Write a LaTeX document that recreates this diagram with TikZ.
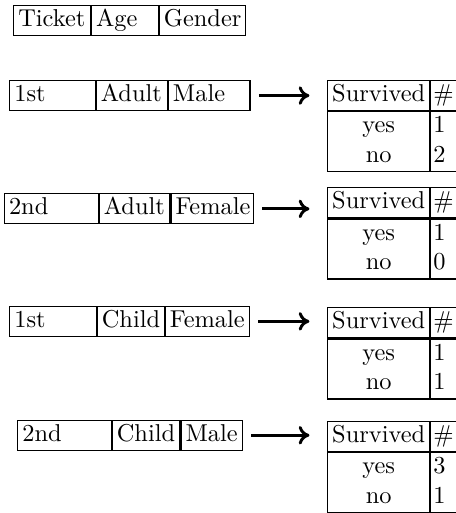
\documentclass[tikz,border=0pt]{standalone}
\usetikzlibrary{arrows.meta}
\def\pxu{0.41pt}
\begin{document}
\begin{tikzpicture}[x=0.41pt,y=-0.41pt,
  cellL/.style={draw, line width=0.45pt, anchor=north west, inner ysep=0pt,
    inner xsep=4.5*\pxu, text width={(#1-9)*\pxu}, align=left,
    minimum height=30*\pxu},
  cellC/.style={draw, line width=0.45pt, anchor=north west, inner sep=0pt,
    minimum width=#1*\pxu, align=center, minimum height=30*\pxu},
  bodyC/.style={draw, line width=0.45pt, anchor=north west, inner sep=0pt,
    minimum width=#1*\pxu, align=center, minimum height=60*\pxu},
  numL/.style={draw, line width=0.45pt, anchor=north west, inner ysep=0pt,
    inner xsep=2.5*\pxu, text width={(#1-5)*\pxu}, align=left,
    minimum height=30*\pxu},
  numB/.style={draw, line width=0.45pt, anchor=north west, inner ysep=0pt,
    inner xsep=2.5*\pxu, text width={(#1-5)*\pxu}, align=left,
    minimum height=60*\pxu},
  arr/.style={line width=1.2pt, -{To[length=4.4pt,width=7.6pt]},
    shorten <=3.4pt, shorten >=7.2pt}
]
\useasboundingbox (0,0) rectangle (456,513);

% header
\node[cellL=76.7] (h1) at (13.3,4.7) {\strut Ticket};
\node[cellL=66.7] (h2) at (h1.north east) {\strut Age};
\node[cellL=86] (h3) at (h2.north east) {\strut Gender};

% row 1
\node[cellL=85.4] (r1a) at (9.3,80) {\strut 1st};
\node[cellL=71] (r1b) at (r1a.north east) {\strut Adult};
\node[cellL=81.6] (r1c) at (r1b.north east) {\strut Male};

% row 2
\node[cellL=93.7] (r2a) at (4,193.3) {\strut 2nd};
\node[cellL=70.6] (r2b) at (r2a.north east) {\strut Adult};
\node[cellL=82.4] (r2c) at (r2b.north east) {\strut Female};

% row 3
\node[cellL=86.4] (r3a) at (9.3,305.8) {\strut 1st};
\node[cellL=67] (r3b) at (r3a.north east) {\strut Child};
\node[cellL=84] (r3c) at (r3b.north east) {\strut Female};

% row 4
\node[cellL=93.4] (r4a) at (17.3,419.7) {\strut 2nd};
\node[cellL=67.6] (r4b) at (r4a.north east) {\strut Child};
\node[cellL=61.4] (r4c) at (r4b.north east) {\strut Male};

% tables
\node[cellC=102.3] (t1a) at (327,80) {\strut Survived};
\node[numL=45] (t1b) at (t1a.north east) {\strut\#};
\node[bodyC=102.3] (t1c) at (t1a.south west) {\strut yes\\\strut no};
\node[numB=45] (t1d) at (t1c.north east) {\strut 1\\\strut 2};

\node[cellC=102.3] (t2a) at (327,187.3) {\strut Survived};
\node[numL=45] (t2b) at (t2a.north east) {\strut\#};
\node[bodyC=102.3] (t2c) at (t2a.south west) {\strut yes\\\strut no};
\node[numB=45] (t2d) at (t2c.north east) {\strut 1\\\strut 0};

\node[cellC=102.3] (t3a) at (327,307.3) {\strut Survived};
\node[numL=45] (t3b) at (t3a.north east) {\strut\#};
\node[bodyC=102.3] (t3c) at (t3a.south west) {\strut yes\\\strut no};
\node[numB=45] (t3d) at (t3c.north east) {\strut 1\\\strut 1};

\node[cellC=102.3] (t4a) at (327,421) {\strut Survived};
\node[numL=45] (t4b) at (t4a.north east) {\strut\#};
\node[bodyC=102.3] (t4c) at (t4a.south west) {\strut yes\\\strut no};
\node[numB=45] (t4d) at (t4c.north east) {\strut 3\\\strut 1};

% arrows
\draw[arr] (r1c.east) -- (r1c.east -| t1a.west);
\draw[arr] (r2c.east) -- (r2c.east -| t2a.west);
\draw[arr] (r3c.east) -- (r3c.east -| t3a.west);
\draw[arr] (r4c.east) -- (r4c.east -| t4a.west);
\end{tikzpicture}
\end{document}
